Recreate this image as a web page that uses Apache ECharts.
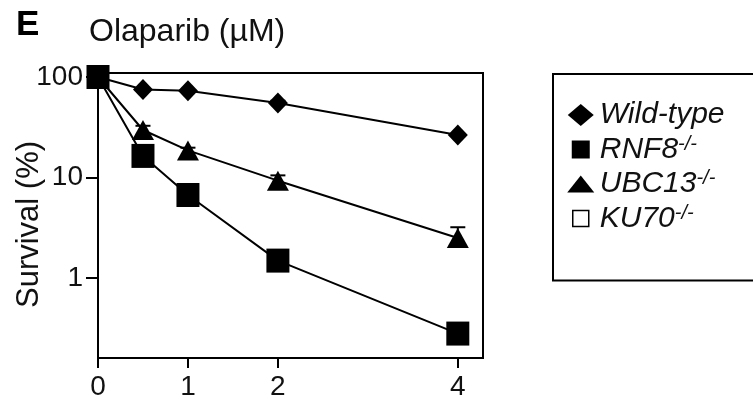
<!DOCTYPE html>
<html><head><meta charset="utf-8">
<script src="https://cdn.jsdelivr.net/npm/echarts@6/dist/echarts.min.js"></script>
<style>html,body{margin:0;padding:0;background:#fff}#c{width:753px;height:405px}</style>
</head><body><div id="c"></div>
<script>
const doses = [0, 0.5, 1, 2, 4];
const wildType = [100, 75, 73, 55, 26.5];
const ubc13 = [100, 29.7, 18.6, 9.3, 2.5];
const rnf8 = [100, 16.4, 6.7, 1.49, 0.28];
const ku70 = [];
const wildTypeErr = [0, 0, 0, 3, 0];
const ubc13Err = [0, 3, 1.2, 1.2, 0.7];
const xTicks = [0, 1, 2, 4];
const yTicks = [1, 10, 100];
const legendNames = ['Wild-type', 'RNF8', 'UBC13', 'KU70'];
const titleLetter = 'E';
const titleText = 'Olaparib (µM)';
const yName = 'Survival (%)';

const FONT = 'Liberation Sans, Arial, sans-serif';
const pts = arr => doses.map((d, i) => [d, arr[i]]);
const errPts = (arr, err) => doses.map((d, i) => [d, arr[i], err[i]]);

function errRender(params, api) {
  const e = api.value(2);
  if (!e) return null;
  const x = api.value(0), v = api.value(1);
  const p0 = api.coord([x, v]);
  const p1 = api.coord([x, v + e]);
  const st = { stroke: '#000', lineWidth: 2 };
  return { type: 'group', children: [
    { type: 'line', shape: { x1: p0[0], y1: p0[1], x2: p1[0], y2: p1[1] }, style: st },
    { type: 'line', shape: { x1: p1[0] - 7.5, y1: p1[1], x2: p1[0] + 7.5, y2: p1[1] }, style: st }
  ]};
}

const B = 'M0 0M28 24';
const icons = {
  'Wild-type': 'path://' + B + 'M1 12L14 1L27 12L14 23Z',
  'RNF8': 'path://' + B + 'M5 3H23V21H5Z',
  'UBC13': 'path://' + B + 'M0.5 20.5L14 3.5L27.5 20.5Z',
  'KU70': 'path://' + B + 'M6 4H22V20H6Z'
};

const chart = echarts.init(document.getElementById('c'), null, { renderer: 'canvas' });
chart.setOption({
  animation: false,
  backgroundColor: '#fff',
  title: [
    { text: titleLetter, left: 16, top: 8, padding: 0,
      textStyle: { fontFamily: FONT, fontSize: 35, fontWeight: 'bold', color: '#000', lineHeight: 35 } },
    { text: titleText, left: 89, top: 16, padding: 0,
      textStyle: { fontFamily: FONT, fontSize: 32, fontWeight: 'normal', color: '#111', lineHeight: 32 } }
  ],
  grid: { left: 98, right: 270, top: 73, bottom: 47, show: true, borderColor: '#000', borderWidth: 2,
    containLabel: false, outerBoundsMode: 'none' },
  xAxis: {
    type: 'value', min: 0, max: 4.28,
    axisLine: { show: true, lineStyle: { color: '#000', width: 2 } },
    axisTick: { show: true, length: 10, lineStyle: { color: '#000', width: 2 }, customValues: xTicks },
    axisLabel: { customValues: xTicks, margin: 15, fontFamily: FONT, fontSize: 28, color: '#111' },
    splitLine: { show: false }
  },
  yAxis: {
    type: 'log', logBase: 10, min: 0.16, max: 109.6,
    name: yName, nameLocation: 'middle', nameGap: 53, nameMoveOverlap: false,
    nameTextStyle: { fontFamily: FONT, fontSize: 31, color: '#111', padding: [0, 18, 0, 0] },
    axisLine: { show: true, lineStyle: { color: '#000', width: 2 } },
    axisTick: { show: true, length: 12, lineStyle: { color: '#000', width: 2 }, customValues: yTicks },
    axisLabel: { customValues: yTicks, margin: 15, fontFamily: FONT, fontSize: 28, color: '#111' },
    splitLine: { show: false }, minorTick: { show: false }
  },
  legend: {
    orient: 'vertical', left: 553, top: 74,
    itemWidth: 28, itemHeight: 24, itemGap: 4,
    padding: [26, 30, 47, 13],
    borderColor: '#000', borderWidth: 2, backgroundColor: '#fff',
    selectedMode: false,
    data: legendNames.map(n => ({
      name: n, icon: icons[n],
      itemStyle: n === 'KU70' ? { color: '#fff', borderColor: '#000', borderWidth: 1.5 } : { color: '#000', borderWidth: 0 }
    })),
    formatter: n => n === 'Wild-type' ? '{i|' + n + '}' : '{i|' + n + '}{s|-/-}',
    textStyle: {
      color: '#111', fontFamily: FONT,
      rich: {
        i: { fontFamily: FONT, fontStyle: 'italic', fontSize: 30, lineHeight: 31, color: '#111' },
        s: { fontFamily: FONT, fontStyle: 'italic', fontSize: 20, lineHeight: 13, verticalAlign: 'top', color: '#111' }
      }
    }
  },
  series: [
    { type: 'custom', name: 'errWT', renderItem: errRender, data: errPts(wildType, wildTypeErr), encode: { x: 0, y: 1 }, z: 1, silent: true },
    { type: 'custom', name: 'errUBC', renderItem: errRender, data: errPts(ubc13, ubc13Err), encode: { x: 0, y: 1 }, z: 1, silent: true },
    { type: 'line', name: 'Wild-type', data: pts(wildType), symbol: 'diamond', symbolSize: [20, 21],
      lineStyle: { color: '#000', width: 2 }, itemStyle: { color: '#000' }, z: 2 },
    { type: 'line', name: 'UBC13', data: pts(ubc13), symbol: 'triangle', symbolSize: [22, 20],
      lineStyle: { color: '#000', width: 2 }, itemStyle: { color: '#000' }, z: 3 },
    { type: 'line', name: 'RNF8', data: pts(rnf8), symbol: 'rect', symbolSize: [23, 24],
      lineStyle: { color: '#000', width: 2 }, itemStyle: { color: '#000' }, z: 4 },
    { type: 'line', name: 'KU70', data: ku70, symbol: 'rect', symbolSize: 16,
      lineStyle: { color: '#000', width: 2 }, itemStyle: { color: '#fff', borderColor: '#000', borderWidth: 1.5 }, z: 5 }
  ]
});
</script>
</body></html>
